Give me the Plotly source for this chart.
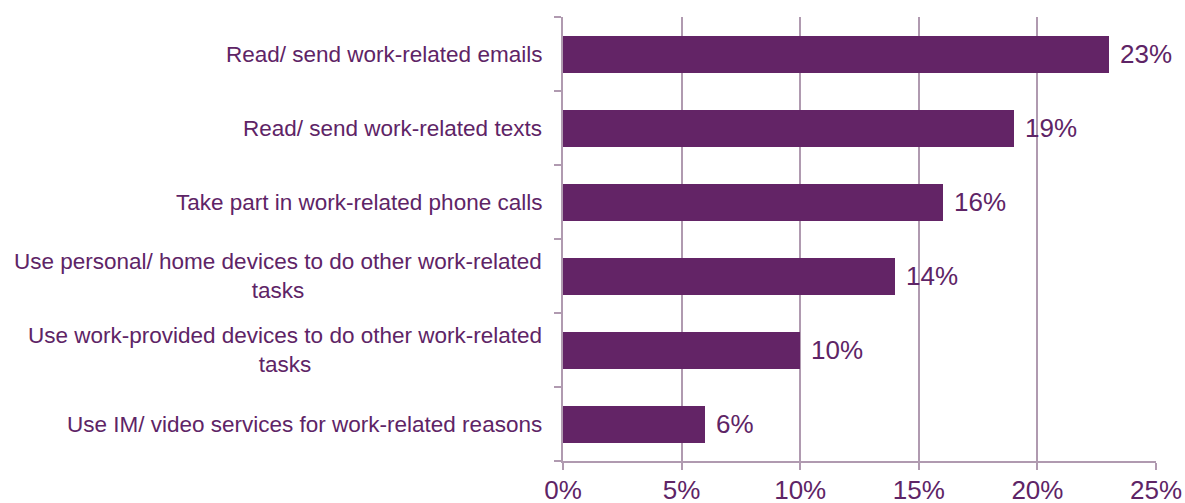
import plotly.graph_objects as go

categories = [
    "Read/ send work-related emails",
    "Read/ send work-related texts",
    "Take part in work-related phone calls",
    "Use personal/ home devices to do other work-related<br>tasks",
    "Use work-provided devices to do other work-related<br>tasks",
    "Use IM/ video services for work-related reasons",
]
values = [23, 19, 16, 14, 10, 6]
x_tick_vals = [0, 5, 10, 15, 20, 25]
x_tick_text = ["0%", "5%", "10%", "15%", "20%", "25%"]

BAR = "#632466"
TXT = "#5E2466"
GRID = "#B09AB0"
FONT = "Liberation Sans, Arial, sans-serif"

pos = list(range(len(categories)))

fig = go.Figure()
fig.add_trace(go.Bar(
    x=values,
    y=pos,
    orientation="h",
    width=0.5,
    marker=dict(color=BAR, line=dict(width=0)),
    hoverinfo="skip",
))

for p, c in zip(pos, categories):
    fig.add_annotation(
        x=0, xref="paper", y=p, yref="y",
        text=c, showarrow=False,
        xanchor="right", yanchor="middle", align="center",
        xshift=-19,
        font=dict(family=FONT, size=22.5, color=TXT),
    )

for p, v in zip(pos, values):
    fig.add_annotation(
        x=v, xref="x", y=p, yref="y",
        text=f"{v}%", showarrow=False,
        xanchor="left", yanchor="middle",
        xshift=9,
        font=dict(family=FONT, size=26, color=TXT),
    )

fig.update_layout(
    width=1185, height=503,
    margin=dict(l=563, r=29, t=17, b=42, autoexpand=False),
    paper_bgcolor="white", plot_bgcolor="white",
    showlegend=False,
    bargap=0,
    font=dict(family=FONT, color=TXT),
)
fig.update_xaxes(
    range=[0, 25],
    tickvals=x_tick_vals, ticktext=x_tick_text,
    tickfont=dict(family=FONT, size=26, color=TXT),
    ticklabelstandoff=-2,
    showgrid=True, gridcolor=GRID, gridwidth=1.5,
    showline=True, linecolor=GRID, linewidth=1.5,
    ticks="outside", ticklen=7, tickcolor=GRID, tickwidth=1.5,
    zeroline=False, automargin=False,
    fixedrange=True,
)
fig.update_yaxes(
    range=[5.5, -0.5],
    tickvals=[-0.5, 0.5, 1.5, 2.5, 3.5, 4.5, 5.5],
    ticktext=[""] * 7,
    showgrid=False,
    showline=True, linecolor=GRID, linewidth=1.5,
    ticks="outside", ticklen=7, tickcolor=GRID, tickwidth=1.5,
    zeroline=False, automargin=False,
    fixedrange=True,
)

fig.write_html(
    "out.html",
    config={"displayModeBar": False},
    post_script="document.body.style.margin='0';document.body.style.overflow='hidden';",
)
